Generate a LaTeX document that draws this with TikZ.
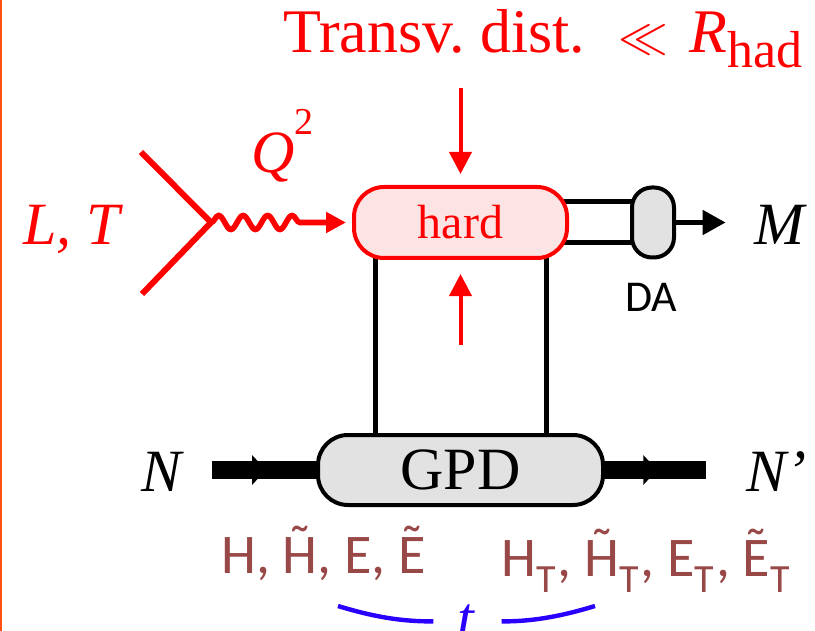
\documentclass[tikz,border=0pt]{standalone}
\usepackage{fontspec}
\setmainfont{Liberation Serif}
\newfontfamily\labelfont{Carlito}
\usetikzlibrary{arrows.meta, positioning, calc, backgrounds, decorations.pathmorphing, decorations.markings}

\definecolor{hardpink}{RGB}{252,228,228}
\definecolor{boxgray}{RGB}{226,226,226}
\definecolor{gpdbrown}{RGB}{152,72,70}
\definecolor{tblue}{RGB}{40,0,255}
\definecolor{edgeorange}{RGB}{255,80,20}

\newcommand{\tsub}{\raisebox{-8pt}{\fontsize{20}{20}\selectfont T}\kern1pt}
\newcommand{\tld}[1]{\accent"02DC #1}

\begin{document}
\begin{tikzpicture}[
    x=0.5pt, y=-0.5pt,
    hardbox/.style={draw=red, fill=hardpink, line width=2pt, rounded corners=15pt, minimum width=106.5pt, minimum height=35.5pt, inner sep=0pt, text=red, font=\fontsize{24}{28}\selectfont},
    dabox/.style={draw, fill=boxgray, line width=2pt, rounded corners=10pt, minimum width=21pt, minimum height=35pt, inner sep=0pt},
    gpdbox/.style={draw, fill=boxgray, line width=2pt, rounded corners=15pt, minimum width=142.5pt, minimum height=35pt, inner sep=0pt, font=\fontsize{30}{34}\selectfont},
    particle/.style={inner sep=0pt, anchor=base, font=\fontsize{30}{34}\selectfont\itshape},
    gpdname/.style={inner sep=0pt, anchor=base west, text=gpdbrown, font=\fontsize{28}{32}\labelfont},
    redarrow/.style={red, line width=2pt, -{Triangle[length=11pt, width=11pt]}},
    lepton/.style={red, line width=3pt},
    photon/.style={red, line width=2.8pt, -{Triangle[length=10pt, width=10pt]}, decorate, decoration={snake, amplitude=3.5pt, segment length=12.25pt, post length=21pt}},
    quark/.style={line width=2.5pt},
    nucleon/.style={line width=9pt, postaction={decorate}, decoration={markings, mark=at position 0.45 with {\fill (-3.5pt,7.5pt) -- (3.5pt,0pt) -- (-3.5pt,-7.5pt) -- cycle;}}},
    tbrace/.style={tblue, line width=2.2pt}
]
\useasboundingbox (0,0) rectangle (815,631);
\draw[edgeorange, line width=1pt] (1,0) -- (1,631);

% title
\node[anchor=base west, inner sep=0pt, text=red, font=\fontsize{31}{36}\selectfont] (title) at (283,53)
    {Transv.\ dist.\hspace{0.2em} $\ll$\hspace{0.35em}\textit{R}\raisebox{-7.5pt}{\fontsize{26}{26}\selectfont had}};

% boxes
\node[hardbox] (hard) at (460.5,222.5) {hard};
\node[dabox] (da) at (653,222.5) {};
\node[gpdbox] (gpd) at (460.5,470) {GPD};

% red arrows on hard part
\coordinate (dtop) at (460.5,88);
\coordinate (utop) at (460.5,345);
\draw[redarrow, shorten >=5.5pt] (dtop) -- (hard.north);
\draw[redarrow, shorten >=7pt] (utop) -- (hard.south);

% lepton and virtual photon
\coordinate (vtx) at (211,222.5);
\coordinate (lin) at (141,152);
\coordinate (lout) at (142,294);
\draw[lepton] (lin) -- (vtx) -- (lout);
\draw[photon, shorten >=3pt] (vtx) -- (hard.west);
\node[particle, text=red] (beam) at (72,245) {L, T};
\node[particle, text=red, anchor=base west] (qsq) at (251,173) {Q\raisebox{19pt}{\upshape\fontsize{19}{19}\selectfont 2}};

% quark lines
\begin{scope}[on background layer]
  \draw[quark] ([shift={(-3pt,10.25pt)}]hard.east) -- ([shift={(3pt,10.25pt)}]da.west);
  \draw[quark] ([shift={(-3pt,-10.25pt)}]hard.east) -- ([shift={(3pt,-10.25pt)}]da.west);
  \draw[quark] ([shift={(-42.75pt,3pt)}]hard.south) -- ([xshift=-42.75pt]gpd.north);
  \draw[quark] ([shift={(42.75pt,3pt)}]hard.south) -- ([xshift=42.75pt]gpd.north);
\end{scope}

% meson
\node[particle] (meson) at (779,244) {M};
\draw[quark, -{Triangle[length=11.5pt, width=12pt]}, shorten >=14pt] (da.east) -- (da.east -| meson.west);
\node[inner sep=0pt, anchor=base, font=\fontsize{22}{26}\selectfont\labelfont] (dalbl) at (651,311) {DA};

% nucleons
\node[particle] (nin) at (162,491) {N};
\node[particle] (nout) at (776,491) {N’};
\draw[nucleon] ($(nin.east |- gpd.west)+(15pt,0)$) -- (gpd.west);
\draw[nucleon] (gpd.east) -- ($(nout.west |- gpd.east)+(-20pt,0)$);

% GPD names
\node[gpdname] (gpdeven) at (221,573) {H, \tld{H}, E, \tld{E}};
\node[gpdname] (gpdtrans) at (501,576) {H\tsub, \tld{H}\tsub, E\tsub, \tld{E}\tsub};

% momentum transfer
\node[inner sep=0pt, anchor=base, text=tblue, font=\fontsize{30}{34}\selectfont\itshape] (tvar) at (466,638) {t};
\coordinate (tl) at (338,606);
\coordinate (tr) at (595,606);
\draw[tbrace, shorten >=12pt] (tl) to[out=-17, in=180] (tvar.west);
\draw[tbrace, shorten <=13.5pt] (tvar.east) to[out=0, in=197] (tr);
\end{tikzpicture}
\end{document}
